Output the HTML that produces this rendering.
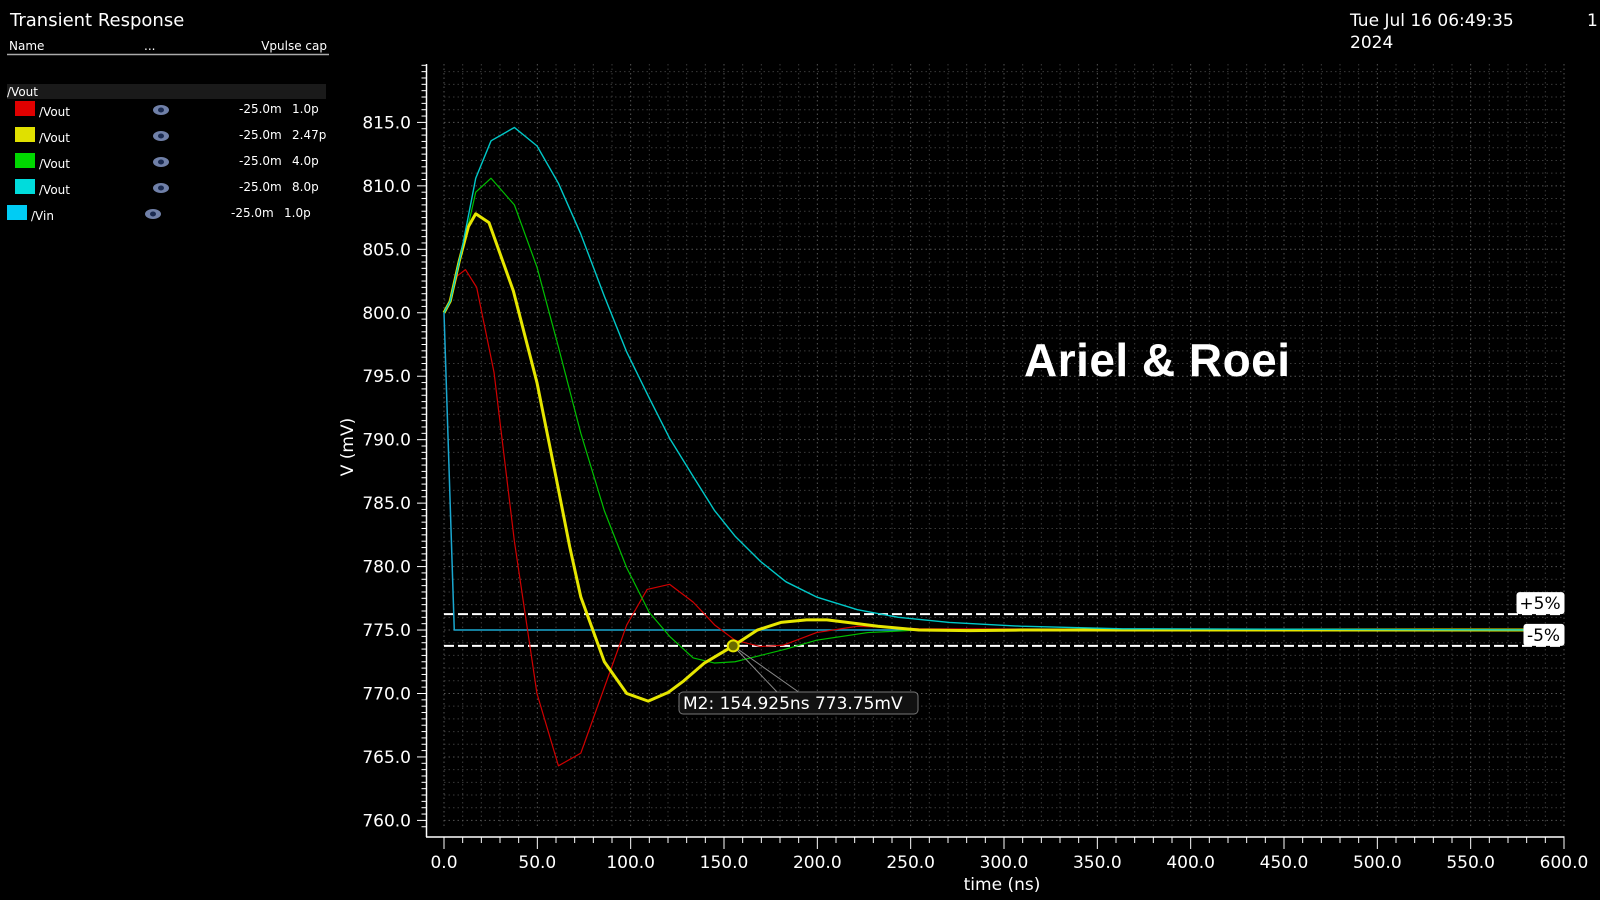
<!DOCTYPE html>
<html><head><meta charset="utf-8"><style>
html,body{margin:0;padding:0;background:#000;}
svg{display:block;font-family:"DejaVu Sans","Liberation Sans",sans-serif;}
</style></head><body>
<svg id="c" width="1600" height="900" viewBox="0 0 1600 900">
<rect width="1600" height="900" fill="#000"/>
<text x="10" y="26" fill="#fff" font-size="18">Transient Response</text>
<text x="1350" y="26" fill="#fff" font-size="17">Tue Jul 16 06:49:35</text>
<text x="1350" y="48" fill="#fff" font-size="17">2024</text>
<text x="1587" y="26" fill="#fff" font-size="17">1</text>
<g font-size="12" fill="#fff">
<text x="9" y="50">Name</text>
<text x="144" y="50">...</text>
<text x="327" y="50" text-anchor="end">Vpulse cap</text>
<line x1="7" y1="54.5" x2="329" y2="54.5" stroke="#aaa" stroke-width="1.5"/>
<rect x="7" y="84" width="319" height="15" fill="#1a1a1a"/>
<text x="7" y="96">/Vout</text>
</g>
<g id="legend" font-size="12" fill="#fff"></g>
<g id="grid"></g>
<g id="axes"></g>
<g id="series"></g>
<text x="1024" y="376" fill="#fff" font-size="46" font-weight="bold" font-family="Liberation Sans, sans-serif" textLength="266">Ariel &amp; Roei</text>
</svg>
<script>
const NS="http://www.w3.org/2000/svg";
const xTicks=[0,50,100,150,200,250,300,350,400,450,500,550,600];
const yTicks=[760,765,770,775,780,785,790,795,800,805,810,815];
const tRed=[0,3.3,7.1,11.5,17.5,26.8,37.7,49.8,61.3,73.3,97.9,108.8,120.9,133.5,145,155.9,169.6,181.6,199.6,221.5,254.3,600];
const vRed=[800,800.9,802.9,803.4,802.0,795.3,782.0,770.0,764.3,765.3,775.4,778.2,778.6,777.2,775.4,774.2,773.7,773.8,774.8,775.3,775.1,775.0];
const tYel=[0,3.3,8.2,13.1,17.0,24.1,37.2,49.8,60.2,67.3,73.3,85.9,97.9,109.4,120.3,128.5,139.5,154.9,167.9,180.5,194.2,205.1,216,232.5,254.3,281.7,309,600];
const vYel=[800,800.9,804.1,806.8,807.8,807.1,801.7,794.5,786.9,781.6,777.6,772.5,770.0,769.4,770.1,771.0,772.4,773.75,775.0,775.6,775.8,775.8,775.6,775.3,775.0,774.95,775.0,775.0];
const tGrn=[0,3.3,9.3,17.0,25.2,37.7,49.8,61.3,73.3,85.9,97.9,109.9,120.9,133.5,145,155.9,169.6,183.2,199.6,227,254.3,600];
const vGrn=[800,800.9,804.5,809.5,810.6,808.5,803.6,797.3,790.5,784.4,779.9,776.4,774.5,772.8,772.4,772.5,773.0,773.5,774.2,774.8,775.0,775.0];
const tCyn=[0,3.3,9.3,17.0,25.2,37.7,49.8,61.3,73.3,85.9,97.9,109.9,120.9,133.5,145,155.9,169.6,183.2,199.6,221.5,243.4,270.7,309,363.7,600];
const vCyn=[800,800.9,804.8,810.6,813.55,814.6,813.15,810.2,806.2,801.3,796.9,793.3,790.1,787.1,784.4,782.4,780.4,778.8,777.6,776.6,776.0,775.6,775.3,775.1,775.0];
const tVin=[0,5.5,600];
const vVin=[800,775,775];
const bandValues=[776.25,773.75];
const bandLabels=["+5%","-5%"];
const markerT=154.925, markerV=773.75;
const legendNames=["/Vout","/Vout","/Vout","/Vout","/Vin"];
const legendCap=["1.0p","2.47p","4.0p","8.0p","1.0p"];
const legendColors=["#e00000","#e0e000","#00d800","#00dcdc","#00ccf4"];

const X0=444,X1=1564,Y0=122.4,Y1=820.4;
const sx=t=>X0+(t-0)/(600-0)*(X1-X0);
const sy=v=>Y0+(815-v)/(815-760)*(Y1-Y0);
function el(tag,attrs,parent){const e=document.createElementNS(NS,tag);for(const k in attrs)e.setAttribute(k,attrs[k]);parent.appendChild(e);return e;}
const grid=document.getElementById('grid'),axes=document.getElementById('axes'),series=document.getElementById('series'),legend=document.getElementById('legend');

for(let t=0;t<=600;t+=10){
  const l=el('line',{x1:sx(t),x2:sx(t),y1:64,y2:829,stroke:t%50===0?'#555':'#3a3a3a','stroke-width':1,'stroke-dasharray':'1.5 3'},grid);
  
  
}
for(let v=760;v<=819;v+=1){
  const l=el('line',{x1:X0,x2:X1,y1:sy(v),y2:sy(v),stroke:v%5===0?'#555':'#3a3a3a','stroke-width':1,'stroke-dasharray':'1.5 3'},grid);
  
  
}
const ax=el('line',{x1:426.5,x2:426.5,y1:64,y2:837,stroke:'#fff','stroke-width':1.5},axes);


const bx=el('line',{x1:426,x2:X1+0.5,y1:837,y2:837,stroke:'#fff','stroke-width':1.5},axes);


for(let v=759.5;v<=820;v+=0.5){const y=sy(v);if(y<64)continue;const maj=Math.abs(v%5)<1e-6;
  el('line',{x1:maj?417:421.5,x2:426.5,y1:y,y2:y,stroke:'#fff','stroke-width':1},axes);}
for(let t=0;t<=600;t+=10){const x=sx(t);const maj=t%50===0;
  el('line',{x1:x,x2:x,y1:837,y2:maj?849:843,stroke:'#fff','stroke-width':1},axes);}
yTicks.forEach(v=>{const tx=el('text',{x:411,y:sy(v)+6,fill:'#fff','font-size':17,'text-anchor':'end'},axes);tx.textContent=v.toFixed(1);
  
  });
xTicks.forEach(t=>{const tx=el('text',{x:sx(t),y:868,fill:'#fff','font-size':17,'text-anchor':'middle'},axes);tx.textContent=t.toFixed(1);
  
  });
const xt=el('text',{x:1002,y:890,fill:'#fff','font-size':17,'text-anchor':'middle'},axes);xt.textContent='time (ns)';


const yt=el('text',{x:0,y:0,fill:'#fff','font-size':17,'text-anchor':'middle',transform:'translate(353,447) rotate(-90)'},axes);yt.textContent='V (mV)';



bandValues.forEach((v,i)=>{
  const l=el('line',{x1:X0,x2:X1,y1:sy(v),y2:sy(v),stroke:'#fff','stroke-width':2,'stroke-dasharray':'10 4'},series);
  
  
});
function poly(ts,vs,color,w,name){
  const p=el('polyline',{points:ts.map((t,i)=>sx(t)+','+sy(vs[i])).join(' '),fill:'none',stroke:color,'stroke-width':w,'stroke-linejoin':'round'},series);
  
  
}
poly(tVin,vVin,'#1aa8d0',1.5,'series-vin');
poly(tRed,vRed,'#d00000',1.2,'series-vout-1p0');
poly(tGrn,vGrn,'#00c000',1.2,'series-vout-4p0');
poly(tYel,vYel,'#e6e600',3,'series-vout-2p47');
poly(tCyn,vCyn,'#00c8c8',1.4,'series-vout-8p0');
bandLabels.forEach((s,i)=>{
  const y=sy(bandValues[i]);const w=i===0?48:41;const yy=y-22;
  const r=el('rect',{x:X1-w+0.5,y:yy,width:w,height:22,rx:3,fill:'#fff'},series);
  
  
  const tx=el('text',{x:X1-w/2,y:yy+17,'font-size':17,fill:'#000','text-anchor':'middle'},series);tx.textContent=s;
  
  
});
const mx=sx(markerT),my=sy(markerV);
el('polyline',{points:`${mx},${my} 778,693 ${mx},${my} 800,693`,fill:'none',stroke:'#888','stroke-width':1},series);
const mc=el('circle',{cx:mx,cy:my,r:5.5,fill:'#6a6a00',stroke:'#e6e600','stroke-width':2},series);


const mb=el('rect',{x:679,y:692,width:239,height:22,rx:4,fill:'#111',stroke:'#777','stroke-width':1},series);


const mt=el('text',{x:683,y:709,fill:'#fff','font-size':17},series);
mt.textContent=`M2: ${markerT}ns ${markerV}mV`;



legendNames.forEach((n,i)=>{
  const y=101+i*26; const isVin=i===4; const sxp=isVin?7:15;
  const r=el('rect',{x:sxp,y:y,width:20,height:15,fill:legendColors[i]},legend);
  
  
  const t=el('text',{x:sxp+24,y:y+15},legend);t.textContent=n;
  
  
  const ex=isVin?153:161;
  const e=el('ellipse',{cx:ex,cy:y+9,rx:8,ry:5,fill:'#7080a8'},legend);
  
  
  el('ellipse',{cx:ex,cy:y+9,rx:3,ry:2.5,fill:'#1a2a50'},legend);
  const v1=el('text',{x:isVin?231:239,y:y+12},legend);v1.textContent='-25.0m';
  
  
  const v2=el('text',{x:isVin?284:292,y:y+12},legend);v2.textContent=legendCap[i];
  
  
});
</script>
</body></html>
